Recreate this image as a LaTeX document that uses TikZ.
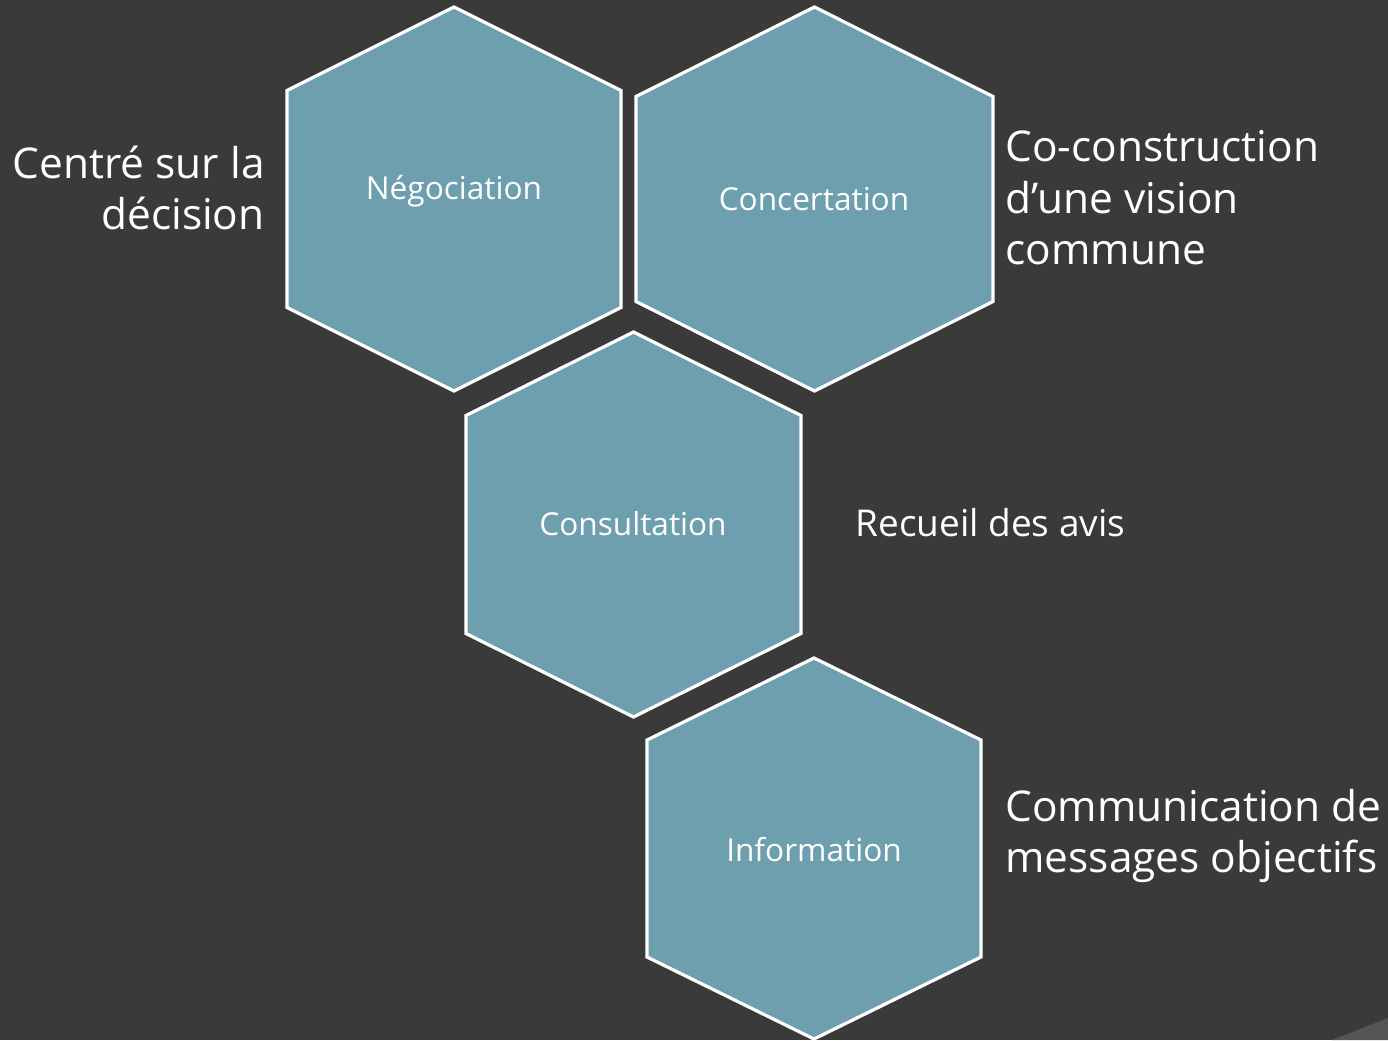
\documentclass[tikz,border=0pt]{standalone}
\usepackage{fontspec}
\setmainfont{Open Sans}
\usepackage{tikz}
\usetikzlibrary{positioning}
\definecolor{fondgris}{HTML}{3A3A3A}
\definecolor{hexableu}{HTML}{6D9FAE}
\definecolor{coingris}{HTML}{555555}
% hexagone : centre x, centre y, demi-largeur, demi-hauteur, hauteur des coins
\newcommand*{\Hexagone}[5]{%
  \draw[hexa] (#1,#2-#4) -- (#1+#3,#2-#5) -- (#1+#3,#2+#5) -- (#1,#2+#4)
    -- (#1-#3,#2+#5) -- (#1-#3,#2-#5) -- cycle;}

\begin{document}
\begin{tikzpicture}[x=0.5pt,y=-0.5pt]
\tikzset{hexa/.style =
{fill = hexableu,
draw = white,
line width = 1.6pt,
line join = miter}}
\tikzset{etiquette/.style =
{text = white,
font = \fontsize{15.8}{20}\selectfont,
inner sep = 0pt}}
\tikzset{cote/.style =
{text = white,
font = \fontsize{18.5}{25.8}\selectfont,
inner sep = 0pt}}
\tikzset{grandcote/.style =
{cote,
font = \fontsize{21.2}{25.8}\selectfont}}
\useasboundingbox (0,0) rectangle (1388,1040);
\fill[fondgris] (0,0) rectangle (1388,1040);
\fill[coingris] (1332,1040) -- (1388,1018) -- (1388,1040) -- cycle;
%\Hexagone{x}{y}{w}{h}{c}
\Hexagone{454}{199}{167}{192}{108.5}
\Hexagone{814.5}{199}{178.5}{192}{102.5}
\Hexagone{633.5}{524.5}{167.5}{192.5}{109}
\Hexagone{814}{848.5}{167}{190.5}{108.5}
\node[etiquette] (negociation) at (454,191) {Négociation};
\node[etiquette] (concertation) at (814,199) {Concertation};
\node[etiquette] (consultation) at (633,524) {Consultation};
\node[etiquette] (information) at (814,850) {Information};
\node[grandcote, anchor = east, align = right] (decision) at (265,188) {Centré sur la\\décision};
\node[grandcote, anchor = west, align = left] (vision) at (1005,198) {Co-construction\\d’une vision\\commune};
\node[cote, anchor = west] (avis) at (855,523) {Recueil des avis};
\node[grandcote, anchor = west, align = left] (messages) at (1005,836) {Communication de\\messages objectifs};
\end{tikzpicture}
\end{document}
